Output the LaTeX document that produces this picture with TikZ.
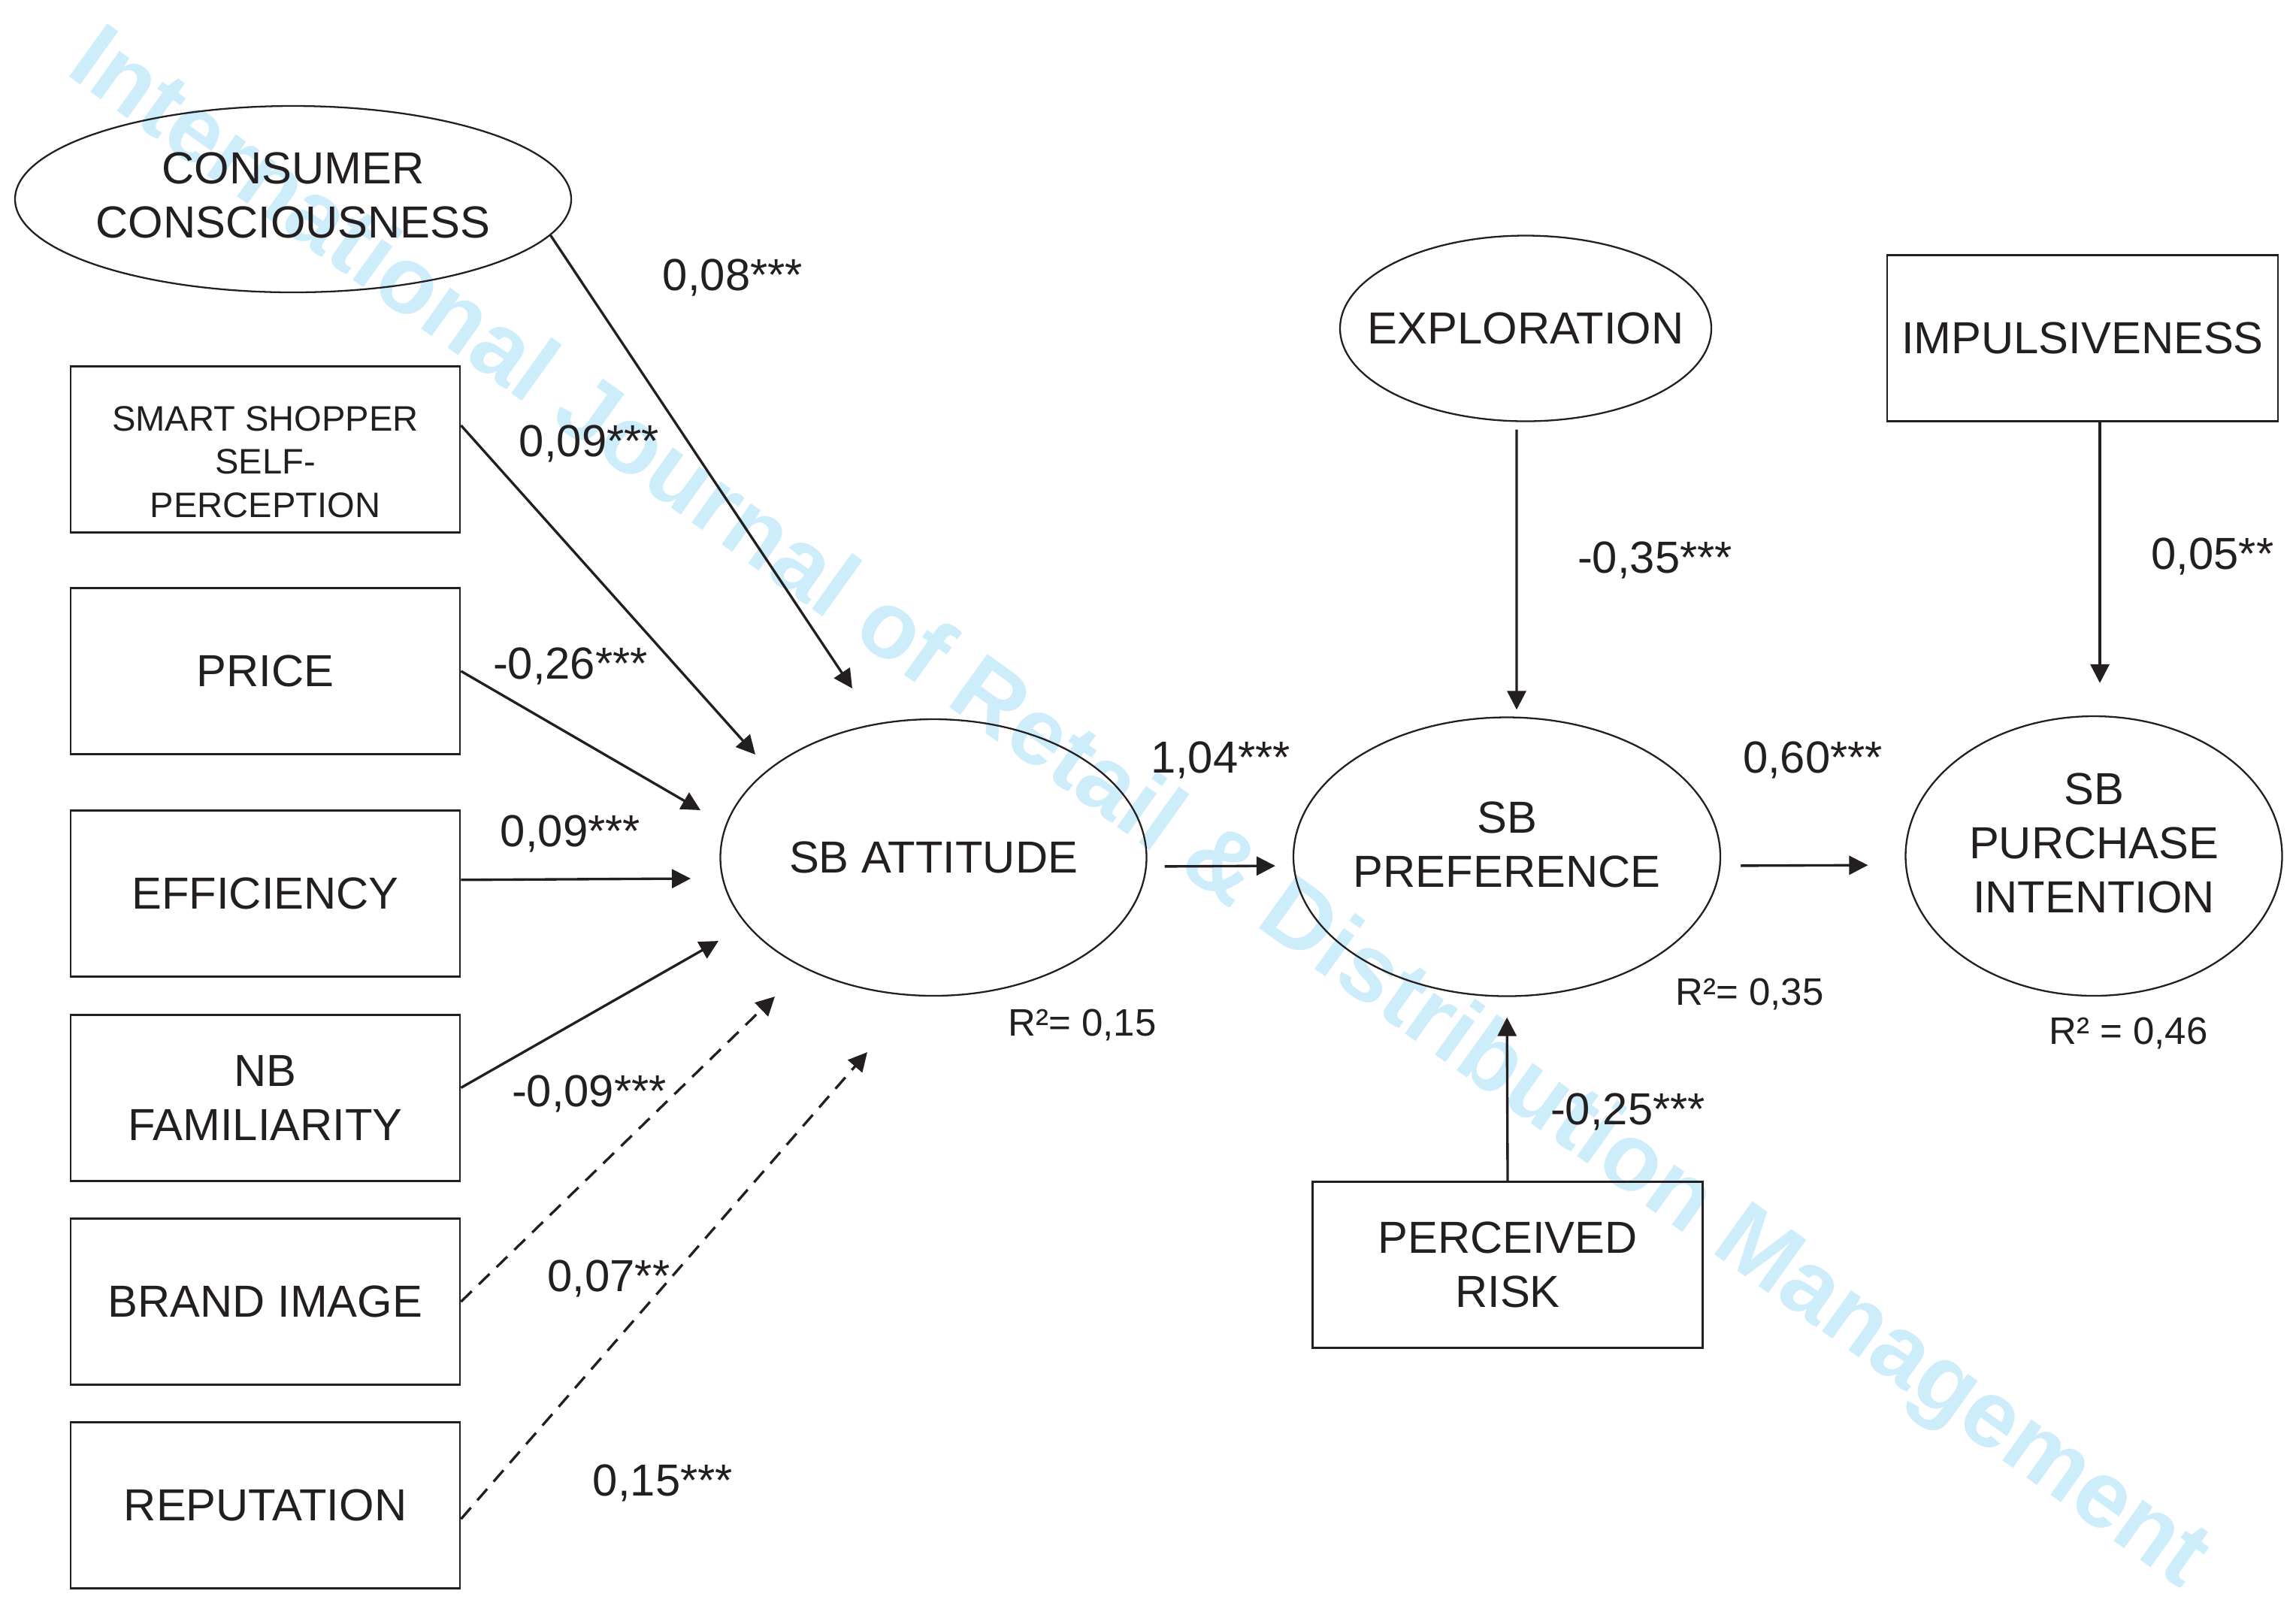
\documentclass[tikz,border=0pt]{standalone}
\usepackage{fontspec}
\setmainfont{Liberation Sans}
\usepackage{tikz}
\usetikzlibrary{arrows.meta,positioning,shapes.geometric}
\definecolor{ink}{RGB}{35,31,32}
\definecolor{wmblue}{RGB}{206,237,251}

\begin{document}
\begin{tikzpicture}[x=1cm, y=-1cm, color=ink,
    font=\fontsize{17}{20.5}\selectfont,
    obsbox/.style={draw, line width=0.8pt, rectangle, minimum width=5.18cm,
                   minimum height=2.21cm, align=center, inner sep=0pt},
    latent/.style={draw, line width=0.65pt, ellipse, align=center,
                   inner ysep=0pt, inner xsep=-1cm},
    effect/.style={line width=0.95pt, -{Triangle[length=2.5mm, width=2.5mm]}},
    weak/.style={effect, dash pattern=on 2mm off 1.3mm},
    coef/.style={inner sep=0pt},
    rsq/.style={inner sep=0pt, font=\fontsize{14.5}{17}\selectfont}]
  \useasboundingbox (0,0) rectangle (30.55,21.32);

  % Watermark
  \node[rotate=-35.6, anchor=base, text=wmblue,
        font=\bfseries\fontsize{36}{36}\selectfont] (wm) at (14.94,11.06)
    {International Journal of Retail \& Distribution Management};

  % Antecedents on the left
  \node[latent, minimum width=7.40cm, minimum height=2.48cm] (cc) at (3.90,2.65)
    {CONSUMER\\CONSCIOUSNESS\rule[-0.1cm]{0pt}{0pt}};
  \node[obsbox, font=\fontsize{13.4}{16.3}\selectfont] (smart) at (3.53,5.98)
    {\rule{0pt}{0.66cm}SMART SHOPPER\\SELF-\\PERCEPTION};
  \foreach \n/\y/\t in {price/8.93/PRICE, eff/11.89/EFFICIENCY,
                        nbfam/14.61/{NB\\FAMILIARITY}, brand/17.32/BRAND IMAGE,
                        rep/20.03/REPUTATION}{
    \node[obsbox] (\n) at (3.53,\y) {\t};
  }

  % Attitude, preference, intention
  \node[latent, minimum width=5.67cm, minimum height=3.68cm] (att) at (12.42,11.41)
    {SB ATTITUDE};
  \node[latent, minimum width=5.68cm, minimum height=3.71cm] (pref) at (20.05,11.40)
    {SB\\PREFERENCE\rule[-0.32cm]{0pt}{0pt}};
  \node[latent, minimum width=5.01cm, minimum height=3.72cm] (pint) at (27.86,11.39)
    {SB\\PURCHASE\\INTENTION\rule[-0.35cm]{0pt}{0pt}};
  \node[latent, minimum width=4.94cm, minimum height=2.47cm] (expl) at (20.30,4.37)
    {EXPLORATION};
  \node[obsbox, minimum width=5.20cm] (impl) at (27.71,4.50) {IMPULSIVENESS};
  \node[obsbox, minimum width=5.19cm] (risk) at (20.06,16.83) {PERCEIVED\\RISK};

  % Arrow tips in front of SB attitude
  \foreach \n/\x/\y in {tcc/11.34/9.16, tsmart/10.05/10.04, tprice/9.32/10.78,
                        teff/9.19/11.69, tnb/9.56/12.52, tbrand/10.31/13.26,
                        trep/11.54/14.00}
    \coordinate (\n) at (\x,\y);

  % Paths into SB attitude
  \draw[effect] (cc.-8) -- (tcc);
  \draw[effect] (smart.7) -- (tsmart);
  \draw[effect] (price.east) -- (tprice);
  \draw[effect] (eff.4) -- (teff);
  \draw[effect] (nbfam.3) -- (tnb);
  \draw[weak] (brand.east) -- (tbrand);
  \draw[weak] (rep.-4) -- (trep);

  % Paths along the chain
  \draw[effect, shorten <=0.23cm, shorten >=0.23cm]
    ([yshift=-0.12cm]att.east) -- ([yshift=-0.12cm]pref.west);
  \draw[effect, shorten <=0.26cm, shorten >=0.49cm]
    ([yshift=-0.12cm]pref.east) -- ([yshift=-0.12cm]pint.west);
  \draw[effect, shorten <=0.10cm, shorten >=0.09cm]
    ([xshift=-0.12cm]expl.south) -- ([xshift=0.13cm]pref.north);
  \draw[effect, shorten >=0.43cm]
    ([xshift=0.23cm]impl.south) -- ([xshift=0.08cm]pint.north);
  \draw[effect, shorten >=0.27cm] (risk.north) -- (pref.south);

  % Coefficients
  \foreach \n/\x/\y/\t in {kcc/9.75/3.69/{0,08***}, ksmart/7.84/5.90/{0,09***},
                           kprice/7.59/8.86/{-0,26***}, keff/7.59/11.09/{0,09***},
                           knb/7.84/14.55/{-0,09***}, kbrand/8.10/17.01/{0,07**},
                           krep/8.82/19.73/{0,15***}, katt/16.24/10.11/{1,04***},
                           kpref/24.12/10.11/{0,60***}, kexpl/22.02/7.45/{-0,35***},
                           kimpl/29.44/7.40/{0,05**}, krisk/21.66/14.79/{-0,25***}}
    \node[coef] (\n) at (\x,\y) {\t};

  % Explained variance
  \node[rsq] (ratt) at (14.40,13.64) {R²= 0,15};
  \node[rsq] (rpref) at (23.28,13.23) {R²= 0,35};
  \node[rsq] (rpint) at (28.32,13.75) {R² = 0,46};
\end{tikzpicture}
\end{document}
